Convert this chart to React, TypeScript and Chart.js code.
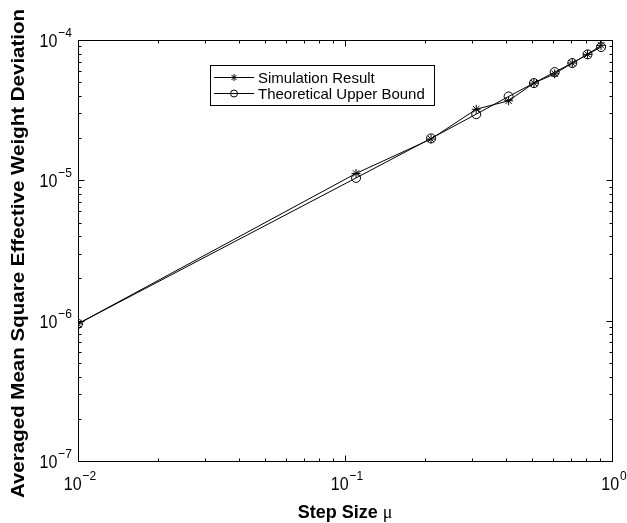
import React, { useEffect, useRef } from 'react';
import { Chart, registerables } from 'chart.js';

Chart.register(...registerables);

// ---- data ----
const stepSizes = [0.01, 0.11, 0.21, 0.31, 0.41, 0.51, 0.61, 0.71, 0.81, 0.91];
const simulationResult = [9.5e-7, 1.12e-5, 1.97e-5, 3.21e-5, 3.69e-5, 4.93e-5, 5.74e-5, 6.85e-5, 7.9e-5, 9.16e-5];
const theoreticalBound = [9.5e-7, 1.04e-5, 1.99e-5, 2.96e-5, 3.96e-5, 4.93e-5, 5.91e-5, 6.85e-5, 7.9e-5, 8.91e-5];
const seriesNames = ['Simulation Result', 'Theoretical Upper Bound'];
const xDecades = [-2, -1, 0];
const yDecades = [-7, -6, -5, -4];
const xTitle = 'Step Size ';
const xTitleSymbol = 'μ';
const yTitle = 'Averaged Mean Square Effective Weight Deviation';

const W = 627;
const H = 523;
const FONT = '"Liberation Sans", Arial, Helvetica, sans-serif';

function drawPower(ctx: CanvasRenderingContext2D, exp: number, x: number, baseY: number, align: 'center' | 'right') {
  const base = '10';
  const sup = (exp < 0 ? '\u2212' : '') + Math.abs(exp);
  ctx.font = `16px ${FONT}`;
  const bw = ctx.measureText(base).width;
  ctx.font = `12px ${FONT}`;
  const sw = ctx.measureText(sup).width;
  const total = bw + 1 + sw;
  const left = align === 'center' ? x - total / 2 : x - total;
  ctx.save();
  ctx.translate(0, baseY);
  ctx.scale(1, 1.12);
  ctx.textAlign = 'left';
  ctx.textBaseline = 'alphabetic';
  ctx.fillStyle = '#000';
  ctx.font = `16px ${FONT}`;
  ctx.fillText(base, left, 0);
  ctx.font = `12px ${FONT}`;
  ctx.fillText(sup, left + bw + 1, -9);
  ctx.restore();
}

function drawStar(ctx: CanvasRenderingContext2D, x: number, y: number, r: number) {
  ctx.beginPath();
  ctx.moveTo(x - r, y); ctx.lineTo(x + r, y);
  ctx.moveTo(x, y - r); ctx.lineTo(x, y + r);
  const d = r * 0.707;
  ctx.moveTo(x - d, y - d); ctx.lineTo(x + d, y + d);
  ctx.moveTo(x - d, y + d); ctx.lineTo(x + d, y - d);
  ctx.stroke();
}

const decorPlugin = {
  id: 'matlabDecor',
  afterDraw(chart: any) {
    const ctx: CanvasRenderingContext2D = chart.ctx;
    const xs = chart.scales.x;
    const ys = chart.scales.y;
    const { left, right, top, bottom } = chart.chartArea;
    ctx.save();
    ctx.strokeStyle = '#000';
    ctx.lineWidth = 1;
    const L = Math.round(left) + 0.5, R = Math.round(right) + 0.5;
    const T = Math.round(top) + 0.5, B = Math.round(bottom) + 0.5;
    ctx.strokeRect(L, T, R - L, B - T);

    // x ticks
    ctx.beginPath();
    for (let i = 0; i < xDecades.length; i++) {
      const d = xDecades[i];
      for (let k = 1; k <= 9; k++) {
        if (i === xDecades.length - 1 && k > 1) break;
        const v = k * Math.pow(10, d);
        const px = Math.round(xs.getPixelForValue(v)) + 0.5;
        const len = k === 1 ? 6 : 3;
        ctx.moveTo(px, B); ctx.lineTo(px, B - len);
        ctx.moveTo(px, T); ctx.lineTo(px, T + len);
      }
    }
    // y ticks
    for (let i = 0; i < yDecades.length; i++) {
      const d = yDecades[i];
      for (let k = 1; k <= 9; k++) {
        if (i === yDecades.length - 1 && k > 1) break;
        const v = k * Math.pow(10, d);
        const py = Math.round(ys.getPixelForValue(v)) + 0.5;
        const len = k === 1 ? 6 : 3;
        ctx.moveTo(L, py); ctx.lineTo(L + len, py);
        ctx.moveTo(R, py); ctx.lineTo(R - len, py);
      }
    }
    ctx.stroke();

    // tick labels
    xDecades.forEach((d) => {
      const px = xs.getPixelForValue(Math.pow(10, d));
      drawPower(ctx, d, px + 2, bottom + 29, 'center');
    });
    yDecades.forEach((d) => {
      const py = ys.getPixelForValue(Math.pow(10, d));
      drawPower(ctx, d, left - 6, py + 7, 'right');
    });

    // x title
    ctx.fillStyle = '#000';
    ctx.textBaseline = 'alphabetic';
    ctx.textAlign = 'left';
    ctx.font = `bold 18px ${FONT}`;
    const w1 = ctx.measureText(xTitle).width;
    ctx.font = `18px "Liberation Serif", "Times New Roman", serif`;
    const w2 = ctx.measureText(xTitleSymbol).width;
    const cx = (left + right) / 2;
    const sx = cx - (w1 + w2) / 2;
    ctx.font = `bold 18px ${FONT}`;
    ctx.fillText(xTitle, sx, 518);
    ctx.font = `18px "Liberation Serif", "Times New Roman", serif`;
    ctx.fillText(xTitleSymbol, sx + w1, 518);

    // y title
    ctx.save();
    ctx.translate(24, (top + bottom) / 2 + 3);
    ctx.rotate(-Math.PI / 2);
    ctx.scale(1.08, 1);
    ctx.textAlign = 'center';
    ctx.font = `bold 19px ${FONT}`;
    ctx.fillText(yTitle, 0, 0);
    ctx.restore();

    // legend
    const bx = 210.5, by = 65.5, bw = 224, bh = 40;
    ctx.fillStyle = '#fff';
    ctx.fillRect(bx, by, bw, bh);
    ctx.strokeRect(bx, by, bw, bh);
    const rows = [77.5, 93.5];
    ctx.font = `15px ${FONT}`;
    ctx.textBaseline = 'middle';
    rows.forEach((ry, i) => {
      ctx.beginPath();
      ctx.moveTo(214, ry); ctx.lineTo(254, ry);
      ctx.stroke();
      if (i === 0) drawStar(ctx, 234, ry, 3.5);
      else { ctx.beginPath(); ctx.arc(234, ry, 3.5, 0, Math.PI * 2); ctx.stroke(); }
      ctx.fillStyle = '#000';
      ctx.fillText(seriesNames[i], 258, ry + 1);
    });
    ctx.restore();
  },
};

export default function App() {
  const ref = useRef<HTMLCanvasElement | null>(null);
  useEffect(() => {
    if (!ref.current) return;
    const chart = new Chart(ref.current, {
      type: 'line',
      data: {
        datasets: [
          {
            label: seriesNames[0],
            data: stepSizes.map((x, i) => ({ x, y: simulationResult[i] })),
            borderColor: '#000',
            borderWidth: 1,
            pointStyle: 'star',
            pointRadius: 4.5,
            pointBorderColor: '#000',
            pointBorderWidth: 1,
            pointBackgroundColor: 'rgba(0,0,0,0)',
            fill: false,
            tension: 0,
          },
          {
            label: seriesNames[1],
            data: stepSizes.map((x, i) => ({ x, y: theoreticalBound[i] })),
            borderColor: '#000',
            borderWidth: 1,
            pointStyle: 'circle',
            pointRadius: 4.5,
            pointBorderColor: '#000',
            pointBorderWidth: 1,
            pointBackgroundColor: 'rgba(0,0,0,0)',
            fill: false,
            tension: 0,
          },
        ],
      },
      options: {
        animation: false,
        responsive: false,
        maintainAspectRatio: false,
        devicePixelRatio: 1,
        layout: { padding: { left: 78, top: 40, right: 15, bottom: 62 } },
        plugins: { legend: { display: false }, tooltip: { enabled: false } },
        scales: {
          x: { type: 'logarithmic', min: 0.01, max: 1, display: false },
          y: { type: 'logarithmic', min: 1e-7, max: 1e-4, display: false },
        },
      },
      plugins: [decorPlugin],
    });
    return () => chart.destroy();
  }, []);
  return (
    <div style={{ position: 'fixed', left: 0, top: 0, width: W, height: H, background: '#fff' }}>
      <canvas ref={ref} width={W} height={H} style={{ width: W, height: H, display: 'block' }} />
    </div>
  );
}
